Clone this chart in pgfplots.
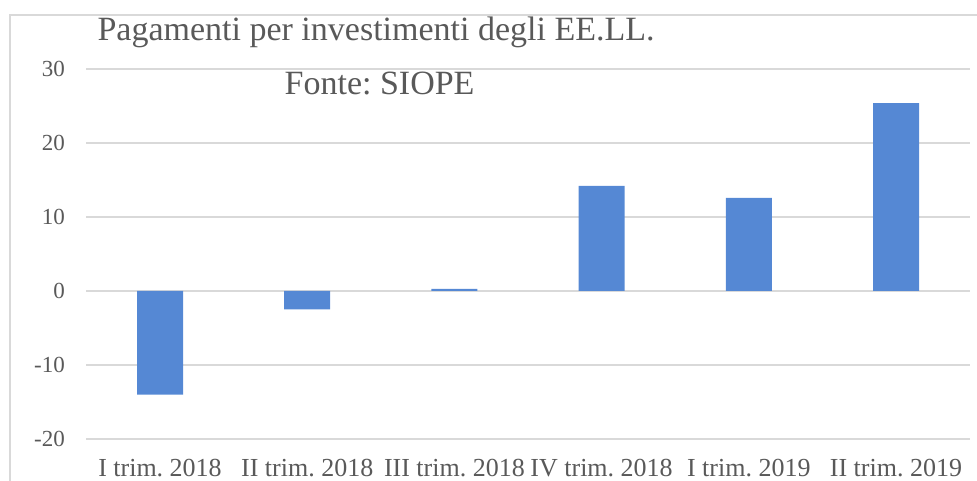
\documentclass[border=0pt]{standalone}
\usepackage{pgfplots}
\pgfplotsset{compat=1.18}
\usepackage{fontspec}
\setmainfont{Liberation Serif}
\frenchspacing
\definecolor{barblue}{RGB}{85,136,212}
\definecolor{txtgray}{RGB}{89,89,89}
\definecolor{gridgray}{RGB}{217,217,217}
\begin{document}
\begin{tikzpicture}[x=1pt,y=1pt]
\begin{axis}[
  at={(0,0)}, anchor=south west,
  scale only axis, width=883.2pt, height=370pt,
  ymin=-20, ymax=30, ytick={-20,-10,0,10,20,30},
  xmin=-0.5, xmax=5.5, xtick=data,
  xticklabels={I trim. 2018,II trim. 2018,III trim. 2018,IV trim. 2018,I trim. 2019,II trim. 2019},
  axis line style={draw=none},
  major tick length=0pt,
  ymajorgrids, grid style={gridgray, line width=1.5pt},
  /pgf/number format/assume math mode=true,
  yticklabel style={font=\fontsize{23}{23}\selectfont, text=txtgray, xshift=-18pt},
  xticklabel style={font=\fontsize{26}{26}\selectfont, text=txtgray, yshift=-17pt},
  ybar, bar width=46pt,
  clip=false,
]
\addplot[fill=barblue, draw=none] coordinates {(0,-14.0) (1,-2.5) (2,0.3) (3,14.2) (4,12.6) (5,25.4)};
\node[anchor=base, text=txtgray, font=\fontsize{34}{34}\selectfont] at (axis description cs:0.328,1.076) {Pagamenti per investimenti degli EE.LL.};
\node[anchor=base, text=txtgray, font=\fontsize{34}{34}\selectfont] at (axis description cs:0.332,0.93) {Fonte: SIOPE};
\end{axis}
\draw[gridgray, line width=1.2pt] (-76.4,-60) -- (-76.4,424) -- (900,424);
\pgfresetboundingbox
\useasboundingbox (-86.4,-42) rectangle (890.6,439);
\end{tikzpicture}
\end{document}
